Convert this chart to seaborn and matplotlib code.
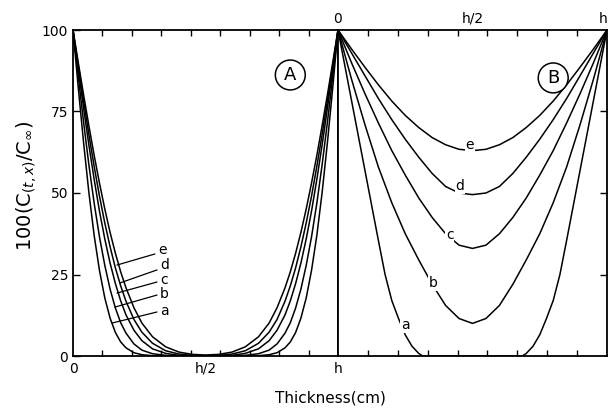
import numpy as np
import pandas as pd
import matplotlib
matplotlib.use("Agg")
import matplotlib.pyplot as plt
import seaborn as sns

# ---------------- data ----------------
curves = ["a", "b", "c", "d", "e"]

# Panel A: x as fraction of thickness h
xA = [0, .02, .04, .06, .08, .10, .12, .14, .16, .18, .20, .23, .26, .30, .35, .40, .45, .50,
      .55, .60, .65, .70, .74, .77, .80, .82, .84, .86, .88, .90, .92, .94, .96, .98, 1.0]
yA_a = [100, 82.2, 65.4, 50.1, 36.9, 26.2, 17.8, 11.6, 7.2, 4.3, 2.5, 1.0, 0.4, 0.1, 0, 0, 0, 0,
        0, 0, 0, 0.1, 0.4, 1.0, 2.5, 4.3, 7.2, 11.6, 17.8, 26.2, 36.9, 50.1, 65.4, 82.2, 100]
yA_b = [100, 85.6, 71.7, 58.6, 46.8, 36.5, 27.8, 20.5, 14.7, 10.2, 7.0, 3.7, 1.8, 0.7, 0.2, 0, 0, 0,
        0, 0, 0.2, 0.7, 1.8, 3.7, 7.0, 10.2, 14.7, 20.5, 27.8, 36.5, 46.8, 58.6, 71.7, 85.6, 100]
yA_c = [100, 87.8, 76.0, 64.7, 54.1, 44.4, 35.9, 28.5, 22.2, 16.9, 12.6, 7.9, 4.7, 2.2, 0.8, 0.2, 0, 0,
        0, 0.2, 0.8, 2.2, 4.7, 7.9, 12.6, 16.9, 22.2, 28.5, 35.9, 44.4, 54.1, 64.7, 76.0, 87.8, 100]
yA_d = [100, 89.0, 78.3, 67.9, 58.1, 49.0, 40.8, 33.5, 27.0, 21.5, 16.8, 11.2, 7.3, 3.9, 1.6, 0.6, 0.2, 0.1,
        0.2, 0.6, 1.6, 3.9, 7.3, 11.2, 16.8, 21.5, 27.0, 33.5, 40.8, 49.0, 58.1, 67.9, 78.3, 89.0, 100]
yA_e = [100, 90.0, 80.1, 70.6, 61.5, 53.0, 45.1, 37.9, 31.5, 25.8, 20.9, 14.8, 10.1, 5.9, 2.8, 1.2, 0.5, 0.3,
        0.5, 1.2, 2.8, 5.9, 10.1, 14.8, 20.9, 25.8, 31.5, 37.9, 45.1, 53.0, 61.5, 70.6, 80.1, 90.0, 100]

# Panel B
xB_a = [0, .05, .10, .15, .175, .20, .225, .25, .275, .30, .315, .50,
        .685, .70, .725, .75, .775, .80, .825, .85, .90, .95, 1.0]
yB_a = [100, 78.5, 57, 35.5, 25, 17, 11.5, 6.5, 3, 0.8, 0, 0,
        0, 0.8, 3, 6.5, 11.5, 17, 25, 35.5, 57, 78.5, 100]
xB = [0, .05, .10, .15, .20, .25, .30, .35, .40, .45, .50,
      .55, .60, .65, .70, .75, .80, .85, .90, .95, 1.0]
yB_b = [100, 85, 71, 58, 47, 37.5, 29.5, 22, 15.5, 11.5, 10,
        11.5, 15.5, 22, 29.5, 37.5, 47, 58, 71, 85, 100]
yB_c = [100, 90, 80.5, 71.5, 63, 55.5, 48.5, 42.5, 37.5, 34, 33,
        34, 37.5, 42.5, 48.5, 55.5, 63, 71.5, 80.5, 90, 100]
yB_d = [100, 93, 86, 79, 72.5, 66.5, 61, 56, 52, 50, 49.5,
        50, 52, 56, 61, 66.5, 72.5, 79, 86, 93, 100]
yB_e = [100, 94.2, 88.6, 83.2, 78.2, 73.8, 70.1, 67.0, 64.8, 63.4, 63.0,
        63.4, 64.8, 67.0, 70.1, 73.8, 78.2, 83.2, 88.6, 94.2, 100]

# label anchors
labA_start_x = [0.147, 0.158, 0.166, 0.177, 0.166]
labA_start_y = [10.1, 15.0, 19.3, 22.4, 27.9]
labA_end_x = [0.317, 0.317, 0.317, 0.317, 0.309]
labA_end_y = [13.5, 18.7, 22.7, 26.4, 31.3]
labA_txt_y = [13.8, 18.9, 23.4, 27.8, 32.6]
labB_x = [0.249, 0.353, 0.416, 0.454, 0.49]
labB_y = [9.5, 22.4, 37.0, 52.0, 64.7]

y_ticks = [0, 25, 50, 75, 100]
x_tick_labels = ["0", "h/2", "h"]

# ---------------- build tables ----------------
dfA = pd.concat([pd.DataFrame({"x": xA, "y": y, "curve": c})
                 for c, y in zip(curves, [yA_a, yA_b, yA_c, yA_d, yA_e])])
dfB = pd.concat([pd.DataFrame({"x": x, "y": y, "curve": c})
                 for c, x, y in zip(curves, [xB_a, xB, xB, xB, xB],
                                    [yB_a, yB_b, yB_c, yB_d, yB_e])])

sns.set_theme(style="ticks")
plt.rcParams['font.family'] = ['DejaVu Sans']
plt.rcParams['mathtext.fontset'] = 'dejavusans'

W, H = 609, 416
fig = plt.figure(figsize=(W / 100, H / 100), dpi=100)
axA = fig.add_axes([73 / W, 60 / H, 265 / W, 326 / H])
axB = fig.add_axes([338 / W, 60 / H, 269 / W, 326 / H])

for ax, df in ((axA, dfA), (axB, dfB)):
    sns.lineplot(data=df, x="x", y="y", units="curve", estimator=None, sort=False,
                 color="black", lw=1.1, ax=ax, legend=False)
    ax.set_xlim(0, 1)
    ax.set_ylim(0, 100)
    ax.set_xlabel("")
    ax.set_ylabel("")
    for s in ax.spines.values():
        s.set_visible(True)
        s.set_color("black")
        s.set_linewidth(1.3)
    ax.set_xticks([0, 0.5, 1])
    ax.set_xticks([i / 9 for i in range(1, 9)], minor=True)
    ax.tick_params(axis="x", which="major", length=0, labelsize=10, colors="black")
    ax.tick_params(axis="x", which="minor", direction="in", length=4, width=1,
                   top=True, bottom=True, color="black")

# Panel A axes
axA.set_xticklabels(x_tick_labels)
axA.set_yticks(y_ticks)
axA.set_yticklabels([str(v) for v in y_ticks])
axA.tick_params(axis="y", direction="in", length=5, width=1, left=True, right=False,
                labelsize=10, colors="black")
axA.tick_params(axis="x", which="major", labelbottom=True, labeltop=False, pad=4)

# Panel B axes
axB.set_xticklabels(x_tick_labels)
axB.tick_params(axis="x", which="major", labelbottom=False, labeltop=True, top=True, pad=3)
axB.get_xticklabels()[-1].set_horizontalalignment("right")
axB.set_yticks([25, 50, 75])
axB.tick_params(axis="y", direction="in", length=5, width=1, left=False, right=True,
                labelleft=False, labelright=False, color="black")

# curve labels, panel A
for c, sx, sy, ex, ey, ty in zip(curves, labA_start_x, labA_start_y, labA_end_x, labA_end_y, labA_txt_y):
    axA.plot([sx, ex], [sy, ey], color="black", lw=0.9)
    axA.text(ex + 0.012, ty, c, fontsize=10, ha="left", va="center", color="black")

# curve labels, panel B
for c, lx, ly in zip(curves, labB_x, labB_y):
    axB.text(lx, ly, c, fontsize=10, ha="center", va="center", color="black",
             bbox=dict(boxstyle="square,pad=0.05", fc="white", ec="none"))

# circled panel letters
axA.text(0.82, 86.2, "A", fontsize=13, ha="center", va="center", color="black",
         bbox=dict(boxstyle="circle,pad=0.33", fc="white", ec="black", lw=1.1))
axB.text(0.80, 85.3, "B", fontsize=13, ha="center", va="center", color="black",
         bbox=dict(boxstyle="circle,pad=0.33", fc="white", ec="black", lw=1.1))

fig.text(27 / W, 1 - 186 / H, r"100(C$_{(t,x)}$/C$_{\infty}$)", rotation=90,
         ha="center", va="center", fontsize=14, color="black")
fig.text(330 / W, 1 - 398 / H, "Thickness(cm)", ha="center", va="center",
         fontsize=11, color="black")

fig.savefig("out.png", dpi=100, facecolor="white")
